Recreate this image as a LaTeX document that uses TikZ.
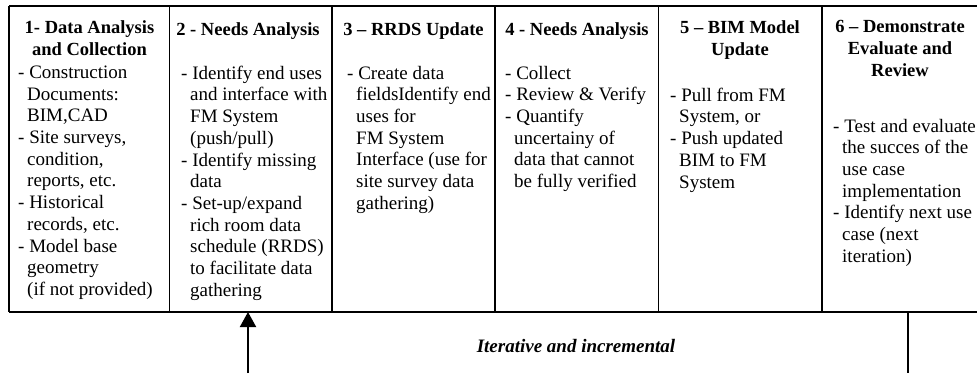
\documentclass[tikz,border=0pt]{standalone}
\usepackage{fontspec}
\setmainfont{Liberation Serif}
\usetikzlibrary{arrows.meta}
\tikzset{
  tabline/.style={draw=black, line width=1.6pt},
  backline/.style={draw=black, line width=2pt},
  head/.style={font=\fontsize{18.5}{21.8}\selectfont\bfseries, align=center, anchor=north, inner sep=0pt, execute at begin node=\strut},
  body/.style={font=\fontsize{19}{21.7}\selectfont, align=left, anchor=north west, inner sep=0pt, execute at begin node=\strut},
  note/.style={font=\fontsize{19}{21.8}\selectfont\bfseries\itshape, anchor=base, inner sep=0pt}
}
\newcommand{\cont}{\hspace*{9pt}}

\begin{document}
\begin{tikzpicture}[x=1pt, y=1pt]
\useasboundingbox (0,0) rectangle (977,-373);

% table frame
\draw[tabline] (9,-6) -- (977,-6);
\draw[tabline] (9,-312) -- (977,-312);
\foreach \cx in {9,169.5,332,495,658.5,822}
  \draw[tabline] (\cx,-6) -- (\cx,-312);

% headers (strut sits above the first baseline)
\node[head] (head1) at (89.5,-20.2) {1- Data Analysis\\and Collection};
\node[head] (head2) at (248,-20.2) {2 - Needs Analysis};
\node[head] (head3) at (413.5,-20.2) {3 -- RRDS Update};
\node[head] (head4) at (577,-20.2) {4 - Needs Analysis};
\node[head] (head5) at (740,-20.2) {5 -- BIM Model\\Update};
\node[head] (head6) at (900,-20.2) {6 -- Demonstrate\\Evaluate and\\Review};

% column texts
\node[body] (body1) at (18,-65.7) {- Construction\\\cont Documents:\\\cont BIM,CAD\\- Site surveys,\\\cont condition,\\\cont reports, etc.\\- Historical\\\cont records, etc.\\- Model base\\\cont geometry\\\cont (if not provided)};
\node[body] (body2) at (181,-65.7) {- Identify end uses\\\cont and interface with\\\cont FM System\\\cont (push/pull)\\- Identify missing\\\cont data\\- Set-up/expand\\\cont rich room data\\\cont schedule (RRDS)\\\cont to facilitate data\\\cont gathering};
\node[body] (body3) at (347,-65.7) {- Create data\\\cont fieldsIdentify end\\\cont uses for\\\cont FM System\\\cont Interface (use for\\\cont site survey data\\\cont gathering)};
\node[body] (body4) at (505,-65.7) {- Collect\\- Review \& Verify\\- Quantify\\\cont uncertainy of\\\cont data that cannot\\\cont be fully verified};
\node[body] (body5) at (670,-87.7) {- Pull from FM\\\cont System, or\\- Push updated\\\cont BIM to FM\\\cont System};
\node[body] (body6) at (833,-118.7) {- Test and evaluate\\\cont the succes of the\\\cont use case\\\cont implementation\\- Identify next use\\\cont case (next\\\cont iteration)};

% iteration loop
\coordinate (backin) at (248,-312);
\coordinate (backfoot) at (248,-373);
\coordinate (backout) at (908,-312);
\coordinate (backend) at (908,-373);
\draw[backline, -{Triangle[width=16pt,length=15pt]}] (backfoot) -- (backin);
\draw[backline] (backout) -- (backend);
\node[note] (iter) at (576,-352) {Iterative and incremental};
\end{tikzpicture}
\end{document}
